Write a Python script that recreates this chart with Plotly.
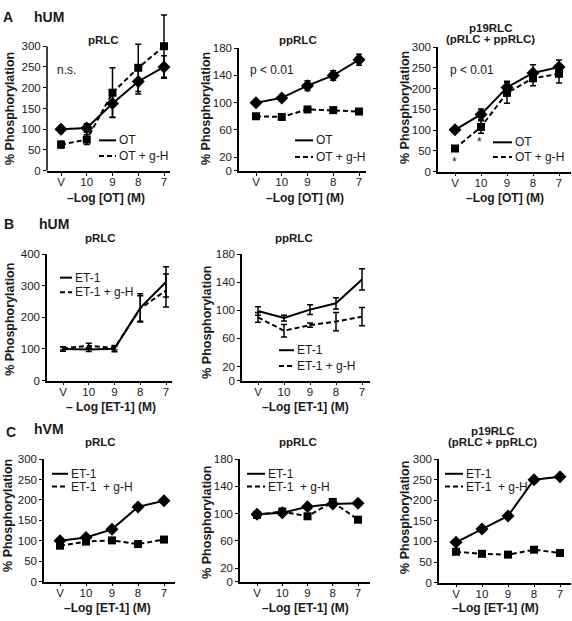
import plotly.graph_objects as go

W, H = 572, 621
FONT = "Liberation Sans, Arial, Helvetica, sans-serif"

x_labels = ["V", "10", "9", "8", "7"]

# ---- Panel A: hUM, oxytocin ----
a_prlc_ot = [100, 103, 162, 215, 250]
a_prlc_ot_err = [8, 10, 33, 30, 27]
a_prlc_gh = [63, 75, 188, 248, 300]
a_prlc_gh_err = [8, 12, 60, 57, 75]

a_pprlc_ot = [100, 107, 125, 140, 163]
a_pprlc_ot_err = [3, 4, 7, 7, 8]
a_pprlc_gh = [80, 79, 90, 89, 87]
a_pprlc_gh_err = [3, 3, 3, 3, 3]

a_p19_ot = [101, 138, 203, 238, 252]
a_p19_ot_err = [5, 13, 15, 20, 17]
a_p19_gh = [56, 108, 190, 225, 236]
a_p19_gh_err = [5, 15, 25, 18, 22]

# ---- Panel B: hUM, ET-1 ----
b_prlc_et = [100, 98, 101, 230, 312]
b_prlc_et_err = [7, 6, 10, 45, 48]
b_prlc_gh = [102, 110, 103, 228, 285]
b_prlc_gh_err = [5, 8, 6, 40, 52]

b_pprlc_et = [99, 89, 101, 110, 144]
b_pprlc_et_err = [6, 4, 7, 8, 15]
b_pprlc_gh = [90, 71, 79, 84, 91]
b_pprlc_gh_err = [7, 9, 3, 13, 13]

# ---- Panel C: hVM, ET-1 ----
c_prlc_et = [100, 108, 128, 183, 198]
c_prlc_gh = [88, 98, 101, 92, 103]
c_pprlc_et = [99, 101, 110, 114, 115]
c_pprlc_gh = [98, 103, 96, 117, 91]
c_p19_et = [98, 130, 162, 250, 257]
c_p19_gh = [75, 70, 68, 80, 72]

ticks_300 = [0, 50, 100, 150, 200, 250, 300]
ticks_180 = [0, 20, 60, 100, 140, 180]
ticks_400 = [0, 100, 200, 300, 400]

# pixel layout of each panel
panels = [
    dict(x0=47, x1=170, xv=61, x7=164, y0=168, ytop=41, vtop=300, vmax=380, ticks=ticks_300,
         s1=a_prlc_ot, e1=a_prlc_ot_err, s2=a_prlc_gh, e2=a_prlc_gh_err, markers=True, ownline=True),
    dict(x0=239, x1=366, xv=256, x7=359, y0=168, ytop=43, vtop=180, vmax=180, ticks=ticks_180,
         s1=a_pprlc_ot, e1=a_pprlc_ot_err, s2=a_pprlc_gh, e2=a_pprlc_gh_err, markers=True),
    dict(x0=438, x1=571, xv=455, x7=559, y0=169, ytop=42, vtop=300, vmax=300, ticks=ticks_300,
         s1=a_p19_ot, e1=a_p19_ot_err, s2=a_p19_gh, e2=a_p19_gh_err, markers=True),
    dict(x0=47, x1=172, xv=63, x7=166, y0=382, ytop=253, vtop=400, vmax=400, ticks=ticks_400,
         s1=b_prlc_et, e1=b_prlc_et_err, s2=b_prlc_gh, e2=b_prlc_gh_err, markers=False),
    dict(x0=242, x1=370, xv=258, x7=362, y0=382, ytop=253, vtop=180, vmax=180, ticks=ticks_180,
         s1=b_pprlc_et, e1=b_pprlc_et_err, s2=b_pprlc_gh, e2=b_pprlc_gh_err, markers=False),
    dict(x0=44, x1=175, xv=60, x7=164, y0=587, ytop=462, vtop=300, vmax=300, ticks=ticks_300,
         s1=c_prlc_et, e1=None, s2=c_prlc_gh, e2=None, markers=True),
    dict(x0=240, x1=370, xv=257, x7=358, y0=587, ytop=462, vtop=180, vmax=180, ticks=ticks_180,
         s1=c_pprlc_et, e1=None, s2=c_pprlc_gh, e2=None, markers=True),
    dict(x0=439, x1=571, xv=456, x7=560, y0=588, ytop=462, vtop=300, vmax=300, ticks=ticks_300,
         s1=c_p19_et, e1=None, s2=c_p19_gh, e2=None, markers=True),
]

fig = go.Figure()
layout = dict(
    width=W, height=H, margin=dict(l=0, r=0, t=0, b=0),
    plot_bgcolor="white", paper_bgcolor="white", showlegend=False,
    font=dict(family=FONT, size=11, color="#1a1a1a"),
)
shapes = []
annotations = []

DASH = "5px,3px"

for i, p in enumerate(panels, start=1):
    xs = "x" if i == 1 else f"x{i}"
    ys = "y" if i == 1 else f"y{i}"
    sp = (p["x7"] - p["xv"]) / 4.0
    r0 = (p["x0"] - p["xv"]) / sp
    r1 = 4 + (p["x1"] - p["x7"]) / sp
    ppu = (p["y0"] - p["ytop"]) / p["vtop"]
    ytop_disp = p["y0"] - p["vmax"] * ppu
    layout["xaxis" if i == 1 else f"xaxis{i}"] = dict(
        domain=[p["x0"] / W, p["x1"] / W], anchor=ys, type="category",
        categoryorder="array", categoryarray=x_labels, range=[r0, r1],
        showline=True, linecolor="black", linewidth=1.5, ticks="outside", ticklen=3,
        tickwidth=1, tickcolor="black", showgrid=False, zeroline=False,
        ticklabelstandoff=-3,
        tickfont=dict(size=11.5, family=FONT, color="#1a1a1a"),
    )
    layout["yaxis" if i == 1 else f"yaxis{i}"] = dict(
        domain=[1 - p["y0"] / H, 1 - ytop_disp / H], anchor=xs, range=[0, p["vmax"]],
        tickvals=p["ticks"], showline=not p.get("ownline", False), linecolor="black",
        linewidth=1.5, ticks="outside", ticklen=3, tickwidth=1, tickcolor="black",
        showgrid=False, zeroline=False,
        tickfont=dict(size=11.5, family=FONT, color="#1a1a1a"),
    )
    if p.get("ownline"):
        shapes.append(dict(type="line", xref=f"{xs} domain", yref=ys, x0=0, x1=0,
                           y0=0, y1=p["vtop"], line=dict(color="black", width=1.5)))

    for series, err, dash, sym, msize in [
        (p["s1"], p["e1"], "solid", "diamond", 10),
        (p["s2"], p["e2"], DASH, "square", 8),
    ]:
        tr = dict(
            x=x_labels, y=series, xaxis=xs, yaxis=ys,
            mode="lines+markers" if p["markers"] else "lines",
            line=dict(color="black", width=2, dash=dash),
            marker=dict(symbol=sym, size=msize, color="black"),
            cliponaxis=False,
        )
        if err is not None:
            tr["error_y"] = dict(type="data", array=err, visible=True, color="black",
                                 thickness=1.5, width=3)
        fig.add_trace(go.Scatter(**tr))


def ann(text, x, y, size=11, bold=False, xanchor="center", yanchor="middle", angle=0):
    t = f"<b>{text}</b>" if bold else text
    annotations.append(dict(text=t, x=x / W, y=1 - y / H, xref="paper", yref="paper",
                            showarrow=False, xanchor=xanchor, yanchor=yanchor,
                            textangle=angle, font=dict(size=size, family=FONT, color="#1a1a1a")))


def legend(xl0, xl1, yr1, yr2, lab1, lab2):
    shapes.append(dict(type="line", xref="paper", yref="paper", x0=xl0 / W, x1=xl1 / W,
                       y0=1 - yr1 / H, y1=1 - yr1 / H, line=dict(color="black", width=2)))
    shapes.append(dict(type="line", xref="paper", yref="paper", x0=xl0 / W, x1=xl1 / W,
                       y0=1 - yr2 / H, y1=1 - yr2 / H, line=dict(color="black", width=2, dash=DASH)))
    ann(lab1, xl1 + 1, yr1, size=12, xanchor="left")
    ann(lab2, xl1 + 1, yr2, size=12, xanchor="left")


# panel letters and tissue labels
ann("A", 1, 11, size=14, bold=True, xanchor="left")
ann("hUM", 32, 11, size=14, bold=True, xanchor="left")
ann("B", 2, 222, size=14, bold=True, xanchor="left")
ann("hUM", 37, 222, size=14, bold=True, xanchor="left")
ann("C", 4, 434, size=14, bold=True, xanchor="left")
ann("hVM", 32, 431, size=14, bold=True, xanchor="left")

# subplot titles
ann("pRLC", 103, 35, size=11.5, bold=True)
ann("ppRLC", 298, 35, size=11.5, bold=True)
ann("p19RLC", 490, 22, size=11.5, bold=True)
ann("(pRLC + ppRLC)", 490, 34, size=11.5, bold=True)
ann("pRLC", 100, 237, size=11.5, bold=True)
ann("ppRLC", 294, 237, size=11.5, bold=True)
ann("pRLC", 100, 445, size=11.5, bold=True)
ann("ppRLC", 298, 445, size=11.5, bold=True)
ann("p19RLC", 492, 433, size=11.5, bold=True)
ann("(pRLC + ppRLC)", 492, 445, size=11.5, bold=True)

# y axis titles
for (xx, yy) in [(10, 105), (206, 105), (405, 104), (10, 320), (207, 323),
                 (8, 520), (207, 527), (405, 522)]:
    ann("% Phosphorylation", xx, yy, size=12.5, bold=True, angle=-90)

# x axis titles
ann("–Log [OT] (M)", 106, 196, size=12, bold=True)
ann("–Log [OT] (M)", 305, 196, size=12, bold=True)
ann("–Log [OT] (M)", 505, 196, size=12, bold=True)
ann("– Log [ET-1] (M)", 111, 409, size=12, bold=True)
ann("–Log [ET-1] (M)", 305, 409, size=12, bold=True)
ann("–Log [ET-1] (M)", 107, 614, size=12, bold=True)
ann("–Log [ET-1] (M)", 305, 614, size=12, bold=True)
ann("–Log [ET-1] (M)", 495, 614, size=12, bold=True)

# statistics
ann("n.s.", 55, 65, size=12, xanchor="left")
ann("p < 0.01", 248, 65, size=12, xanchor="left")
ann("p < 0.01", 448, 65, size=12, xanchor="left")
ann("*", 454, 159, size=12)
ann("*", 479, 139, size=12)

# legends
legend(99, 116, 137, 153, "OT", "OT + g-H")
legend(295, 313, 137, 154, "OT", "OT + g-H")
legend(493, 512, 139, 154, "OT", "OT + g-H")
legend(60, 72, 277, 292, "ET-1", "ET-1 + g-H")
legend(279, 294, 351, 367, "ET-1", "ET-1 + g-H")
legend(52, 68, 477, 490, "ET-1", "ET-1  + g-H")
legend(247, 265, 477, 490, "ET-1", "ET-1  + g-H")
legend(445, 463, 477, 490, "ET-1", "ET-1  + g-H")

layout["shapes"] = shapes
layout["annotations"] = annotations
fig.update_layout(**layout)
fig.write_html(
    "out.html",
    config={"displayModeBar": False},
    post_script="document.body.style.margin='0px';document.body.style.overflow='hidden';",
)
